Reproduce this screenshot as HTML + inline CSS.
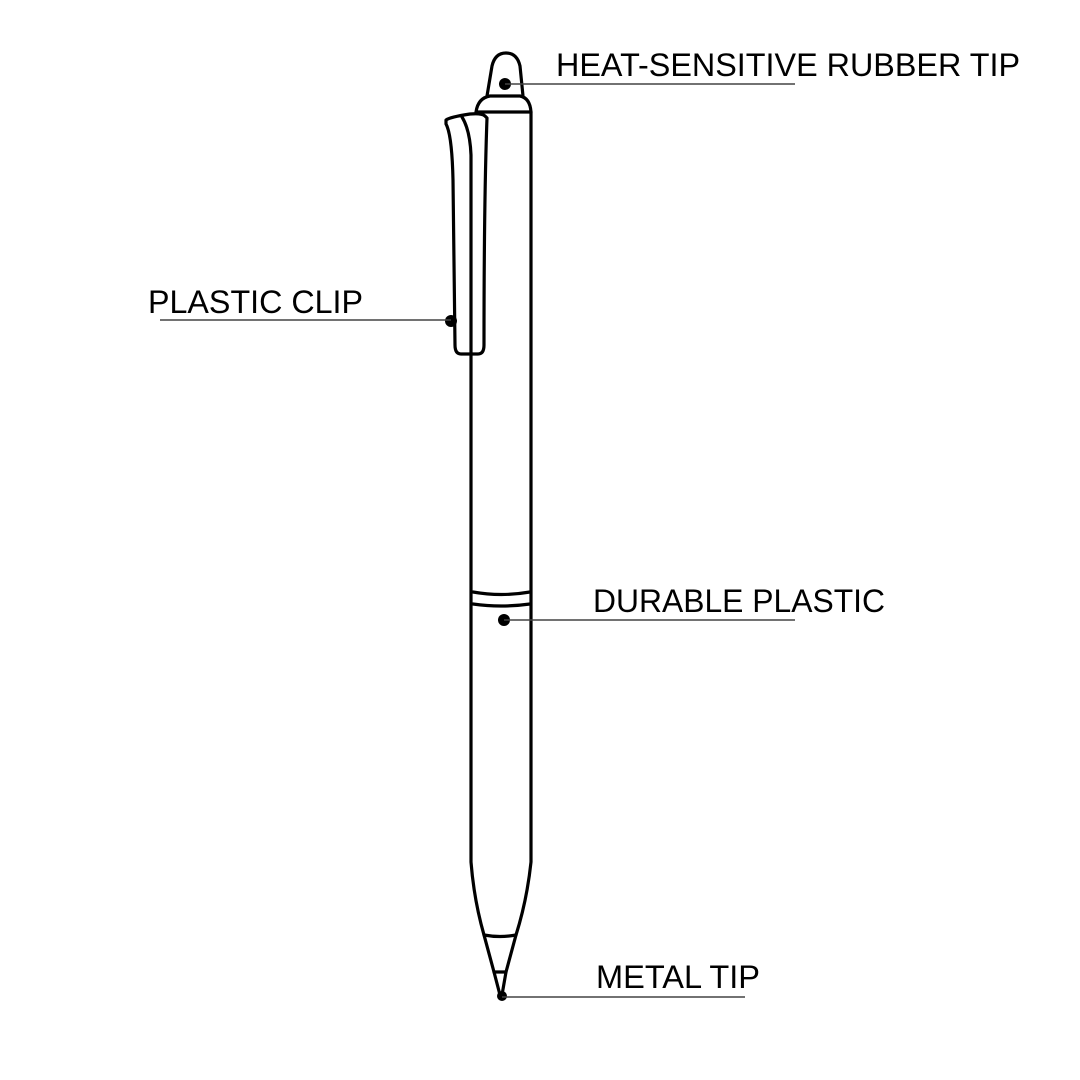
<!DOCTYPE html>
<html><head><style>html,body{margin:0;padding:0;background:#fff}svg{display:block}</style></head>
<body>
<svg width="1080" height="1080" viewBox="0 0 1080 1080" xmlns="http://www.w3.org/2000/svg">
<g fill="none" stroke="#000" stroke-width="3.2" stroke-linejoin="round" stroke-linecap="round">
<!-- top loop -->
<path d="M487 96 L492 66 Q495 53 506 53 Q517 53 520 66 L523 96"/>
<!-- dome -->
<path d="M476 112 Q478 98 490 96 L520 96 Q530 98 531 112 Z"/>
<!-- body -->
<path d="M531 112 L531 862 Q527 900 516 935 L506 972 L502 995"/>
<path d="M471 355 L471 862 Q474 900 484 935 L494 972 L500 995"/>
<path d="M484 935 Q500 938 516 935"/>
<path d="M494 972 L506 972"/>
<path d="M473 592 Q501 597 530 592"/>
<path d="M473 604 Q501 608 530 604"/>
<!-- clip -->
<path d="M446 120 Q450 117 470 114 Q482 113 485 116 L487 118 Q484 200 484 345 Q484 354 478 354 L461 354 Q455 354 455 345 L453 180 Q452 135 446 124 Z"/>
<path d="M462 117 Q470 130 471 155 L471 354"/>
</g>
<g fill="#000">
<circle cx="505" cy="84" r="6"/>
<circle cx="451" cy="321" r="6"/>
<circle cx="504" cy="620" r="6"/>
<circle cx="502" cy="996" r="5"/>
</g>
<g stroke="#444" stroke-width="1.5">
<line x1="505" y1="84" x2="795" y2="84"/>
<line x1="160" y1="320" x2="451" y2="320"/>
<line x1="504" y1="620" x2="795" y2="620"/>
<line x1="502" y1="997" x2="745" y2="997"/>
</g>
<g font-family="Liberation Sans, sans-serif" font-size="32" fill="#000">
<text x="556" y="76" textLength="464" lengthAdjust="spacingAndGlyphs">HEAT-SENSITIVE RUBBER TIP</text>
<text x="148" y="313" textLength="215" lengthAdjust="spacingAndGlyphs">PLASTIC CLIP</text>
<text x="593" y="612" textLength="292" lengthAdjust="spacingAndGlyphs">DURABLE PLASTIC</text>
<text x="596" y="988" textLength="164" lengthAdjust="spacingAndGlyphs">METAL TIP</text>
</g>
</svg>
</body></html>
